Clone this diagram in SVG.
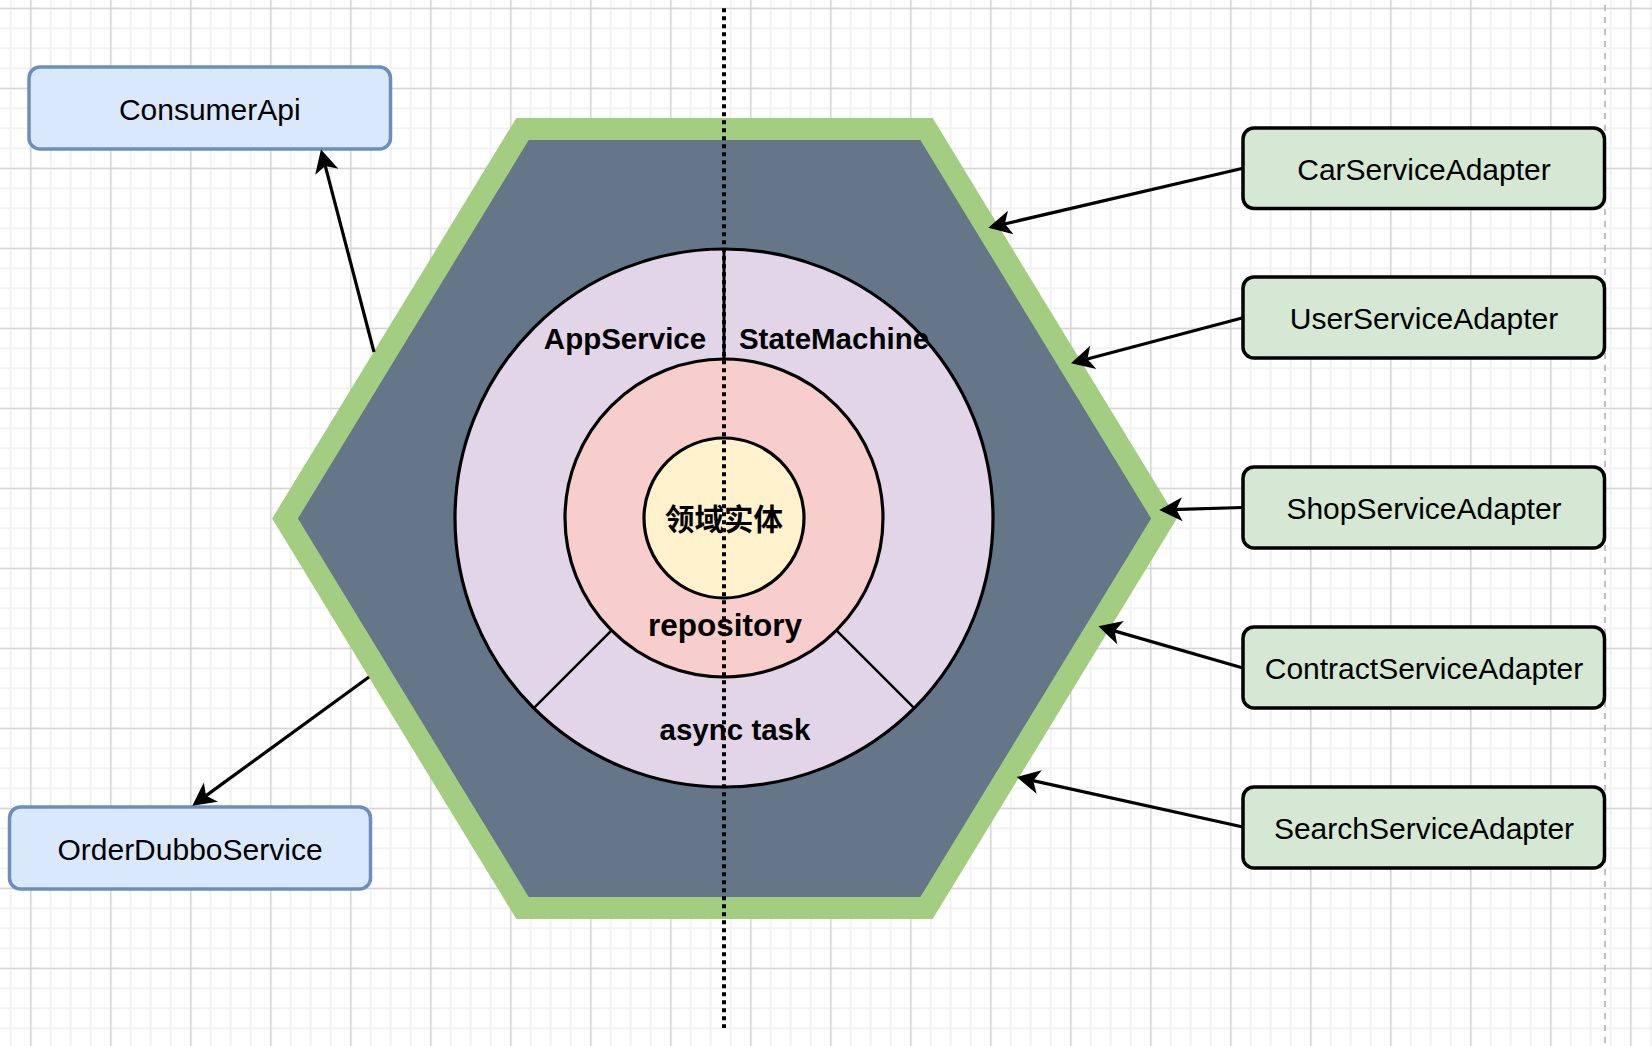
<svg xmlns="http://www.w3.org/2000/svg" width="1652" height="1046" viewBox="0 0 1652 1046">
  <style>
    .lbl { font-family: "Liberation Sans", Arial, Helvetica, sans-serif; font-size: 30px; fill: #000; text-anchor: middle; }
    .bold { font-family: "Liberation Sans", Arial, Helvetica, "Noto Sans CJK SC", sans-serif; font-weight: bold; font-size: 29.5px; fill: #000; text-anchor: middle; }
    .blue { fill: #dae8fc; stroke: #6c8ebf; stroke-width: 3.5; }
    .green { fill: #d5e8d4; stroke: #000; stroke-width: 3.5; }
    .edge { fill: none; stroke: #000; stroke-width: 3.2; marker-end: url(#arr); }
  </style>
  <defs>
    <pattern id="minor" patternUnits="userSpaceOnUse" x="9.7" y="7.3" width="20" height="20">
      <rect x="0" y="0" width="2" height="20" fill="#f2f2f2"/>
      <rect x="0" y="0" width="20" height="2" fill="#f2f2f2"/>
    </pattern>
    <pattern id="major" patternUnits="userSpaceOnUse" x="30.2" y="7.8" width="80" height="80">
      <rect x="0" y="0" width="1.2" height="80" fill="#cfcfcf"/>
      <rect x="0" y="0" width="80" height="1.2" fill="#cfcfcf"/>
    </pattern>
    <marker id="arr" markerUnits="userSpaceOnUse" viewBox="-12 -13 26 26" refX="0" refY="0" markerWidth="26" markerHeight="26" orient="auto">
      <path d="M12,0 L-11,-12 L-5,0 L-11,12 Z" fill="#000"/>
    </marker>
  </defs>

  <g id="background">
    <rect x="0" y="0" width="1652" height="1046" fill="#ffffff"/>
    <rect x="0" y="0" width="1652" height="1046" fill="url(#minor)"/>
    <rect x="0" y="0" width="1652" height="1046" fill="url(#major)"/>
    <line x1="1605" y1="5" x2="1605" y2="1046" stroke="#c0c0c0" stroke-width="2" stroke-dasharray="6 6"/>
  </g>

  <g id="hexagon">
    <polygon points="522.5,129 926.5,129 1164,518.5 926.5,908 522.5,908 285,518.5" fill="#647687" stroke="#a3cd81" stroke-width="22" stroke-linejoin="miter" stroke-miterlimit="10"/>
  </g>

  <g id="app-layer">
    <circle cx="724" cy="518" r="269" fill="#e1d5e7" stroke="#000" stroke-width="3.2"/>
    <line x1="724" y1="248" x2="724" y2="359" stroke="#000" stroke-width="3"/>
    <line x1="611.6" y1="630.4" x2="533.8" y2="708.2" stroke="#000" stroke-width="2.5"/>
    <line x1="836.4" y1="630.4" x2="914.2" y2="708.2" stroke="#000" stroke-width="2.5"/>
  </g>
  <g id="repository-layer">
    <circle cx="724" cy="518" r="159" fill="#f8cecc" stroke="#000" stroke-width="3.2"/>
  </g>
  <g id="domain-entity">
    <circle cx="724" cy="518" r="80" fill="#fff2cc" stroke="#000" stroke-width="3.2"/>
  </g>

  <g id="labels">
    <text class="bold" x="625" y="349">AppService</text>
    <text class="bold" x="834" y="349">StateMachine</text>
    <text class="bold" x="724" y="530">领域实体</text>
    <text class="bold" x="725" y="636" style="font-size:31.5px">repository</text>
    <text class="bold" x="735" y="740">async task</text>
  </g>

  <g id="ConsumerApi">
    <rect class="blue" x="29" y="67" width="361.5" height="82" rx="11"/>
    <text class="lbl" x="209.75" y="119.5">ConsumerApi</text>
  </g>
  <g id="OrderDubboService">
    <rect class="blue" x="9.5" y="807" width="361" height="82" rx="11"/>
    <text class="lbl" x="190" y="859.5">OrderDubboService</text>
  </g>
  <g id="CarServiceAdapter">
    <rect class="green" x="1243" y="128" width="361.5" height="80.5" rx="11"/>
    <text class="lbl" x="1424" y="180">CarServiceAdapter</text>
  </g>
  <g id="UserServiceAdapter">
    <rect class="green" x="1243" y="277" width="361.5" height="81" rx="11"/>
    <text class="lbl" x="1424" y="329">UserServiceAdapter</text>
  </g>
  <g id="ShopServiceAdapter">
    <rect class="green" x="1243" y="467" width="361.5" height="81" rx="11"/>
    <text class="lbl" x="1424" y="519">ShopServiceAdapter</text>
  </g>
  <g id="ContractServiceAdapter">
    <rect class="green" x="1243" y="627" width="361.5" height="81" rx="11"/>
    <text class="lbl" x="1424" y="679">ContractServiceAdapter</text>
  </g>
  <g id="SearchServiceAdapter">
    <rect class="green" x="1243" y="787" width="361.5" height="81" rx="11"/>
    <text class="lbl" x="1424" y="839">SearchServiceAdapter</text>
  </g>

  <g id="connectors">
    <line class="edge" x1="374" y1="352" x2="324.0" y2="161.1"/>
    <line class="edge" x1="369" y1="677" x2="202.0" y2="798.6"/>
    <line class="edge" x1="1243" y1="168.3" x2="1000.0" y2="225.0"/>
    <line class="edge" x1="1243" y1="317.7" x2="1082.6" y2="360.2"/>
    <line class="edge" x1="1243" y1="507.5" x2="1171.3" y2="509.6"/>
    <line class="edge" x1="1243" y1="668" x2="1109.9" y2="629.6"/>
    <line class="edge" x1="1243" y1="827" x2="1028.4" y2="779.6"/>
  </g>

  <g id="axis">
    <line x1="724" y1="8.3" x2="724" y2="1028" stroke="#000" stroke-width="4" stroke-dasharray="4 4"/>
  </g>
</svg>
